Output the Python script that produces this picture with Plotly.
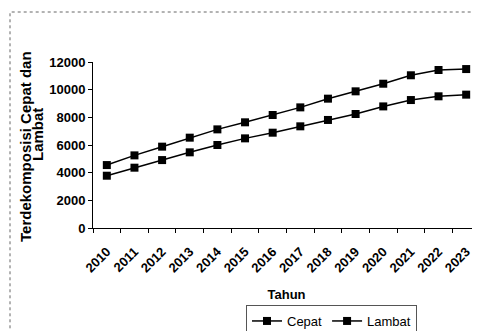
import plotly.graph_objects as go

years = ["2010", "2011", "2012", "2013", "2014", "2015", "2016",
         "2017", "2018", "2019", "2020", "2021", "2022", "2023"]
cepat = [3780, 4360, 4910, 5470, 6000, 6480, 6890, 7350, 7810, 8240, 8790, 9250, 9520, 9640]
lambat = [4550, 5250, 5880, 6530, 7130, 7640, 8170, 8720, 9350, 9880, 10430, 11040, 11420, 11490]
y_ticks = [0, 2000, 4000, 6000, 8000, 10000, 12000]
y_tick_text = ["0", "2000", "4000", "6000", "8000", "10000", "12000"]
y_title_lines = ["Terdekomposisi Cepat dan", "Lambat"]

FONT = "Liberation Sans, Arial, sans-serif"

# figure placed inside the page's 8px body margin
W, H = 472, 335
ML, MT = 85, 54
MB = H - 220
PW, PH = W - ML, H - MT - MB


def px(xs):
    return (xs - 8 - ML) / PW


def py(ys):
    return (H - MB - (ys - 8)) / PH


fig = go.Figure()
fig.add_trace(go.Scatter(x=years, y=cepat, name="Cepat", mode="lines+markers",
                         line=dict(color="black", width=1.5),
                         marker=dict(symbol="square", size=8, color="black")))
fig.add_trace(go.Scatter(x=years, y=lambat, name="Lambat", mode="lines+markers",
                         line=dict(color="black", width=1.5),
                         marker=dict(symbol="square", size=8, color="black")))

fig.update_layout(
    width=W, height=H,
    margin=dict(l=ML, r=0, t=MT, b=MB, pad=0),
    paper_bgcolor="white", plot_bgcolor="white",
    font=dict(family=FONT, color="black", size=12, weight="bold"),
    showlegend=True,
    legend=dict(orientation="h", x=px(246), y=py(305), xanchor="left", yanchor="top",
                bordercolor="#555", borderwidth=1, bgcolor="white",
                font=dict(size=13, weight="normal"),
                itemwidth=30, tracegroupgap=0),
    xaxis=dict(type="category", range=[-0.5, 13.5], tickangle=-45,
               automargin=False,
               showline=True, linecolor="black", linewidth=1,
               ticks="outside", ticklen=4, tickcolor="black",
               tickson="boundaries", showgrid=False, zeroline=False,
               ticklabelstandoff=10,
               tickfont=dict(size=13, weight="bold"),
               title=dict(text="Tahun", font=dict(size=13, weight="bold"), standoff=15)),
    yaxis=dict(range=[0, 12000], tickvals=y_ticks, ticktext=y_tick_text,
               automargin=False,
               showline=True, linecolor="black", linewidth=1,
               ticks="outside", ticklen=4, tickcolor="black",
               showgrid=False, zeroline=False,
               tickfont=dict(size=13, weight="bold")),
    annotations=[
        dict(text=y_title_lines[0], xref="paper", yref="paper", x=px(25), y=py(147),
             textangle=-90, showarrow=False, xanchor="center", yanchor="middle",
             font=dict(size=15, weight="bold")),
        dict(text=y_title_lines[1], xref="paper", yref="paper", x=px(37), y=py(135),
             textangle=-90, showarrow=False, xanchor="center", yanchor="middle",
             font=dict(size=15, weight="bold")),
    ],
    shapes=[dict(type="rect", xref="paper", yref="paper",
                 x0=px(10), x1=1.05, y0=-1.0, y1=py(12),
                 line=dict(color="#666", width=1, dash="dot"))],
)
fig.write_html("out.html")
